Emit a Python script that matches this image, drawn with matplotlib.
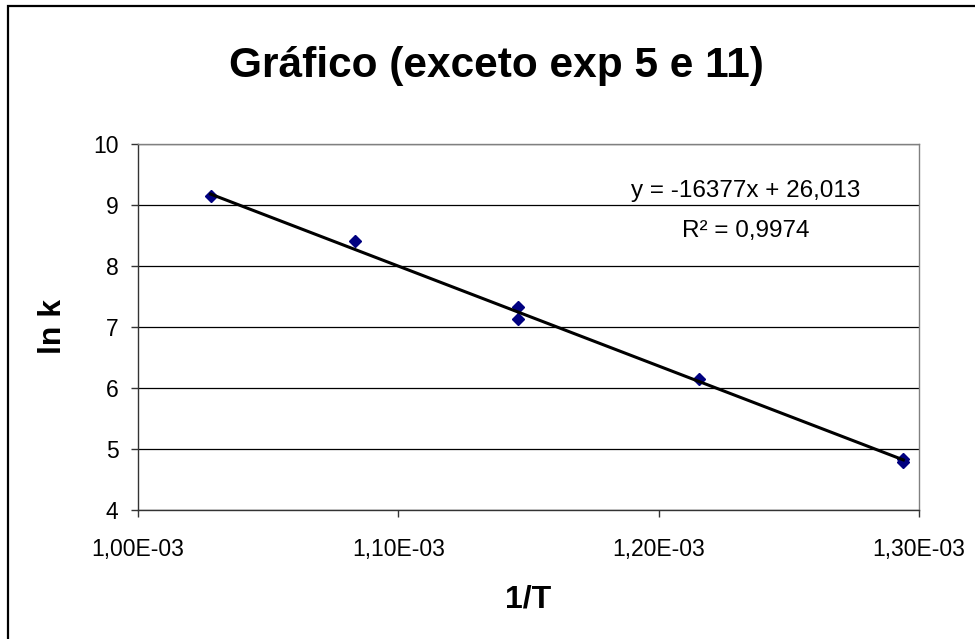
import matplotlib
matplotlib.use("Agg")
import matplotlib.pyplot as plt
from matplotlib.patches import Rectangle
from matplotlib.ticker import FixedLocator, FuncFormatter
import numpy as np

plt.rcParams['font.family'] = ['Liberation Sans', 'DejaVu Sans']

# data
inv_T = [1.0279e-3, 1.0834e-3, 1.1461e-3, 1.1461e-3, 1.2155e-3, 1.2940e-3, 1.2940e-3]
ln_k = [9.15, 8.41, 7.33, 7.13, 6.15, 4.78, 4.84]
slope = -16377
intercept = 26.013
eq_text = "y = -16377x + 26,013"
r2_text = "R² = 0,9974"
x_ticks = [1.00e-3, 1.10e-3, 1.20e-3, 1.30e-3]
y_ticks = [4, 5, 6, 7, 8, 9, 10]

fig = plt.figure(figsize=(9.75, 6.39), dpi=100)
ax = fig.add_axes([138/975, 1-510/639, (919-138)/975, (510-144)/639])

# outer chart border (only top and left visible)
fig.patches.append(Rectangle((8/975, -0.05), 1.2, 1 - 6/639 + 0.05, transform=fig.transFigure,
                             fill=False, edgecolor='black', linewidth=1.6, zorder=0))

ax.set_xlim(1.00e-3, 1.30e-3)
ax.set_ylim(4, 10)
ax.xaxis.set_major_locator(FixedLocator(x_ticks))
ax.yaxis.set_major_locator(FixedLocator(y_ticks))
ax.xaxis.set_major_formatter(FuncFormatter(lambda v, p: ("%.2E" % v).replace('.', ',')))
ax.yaxis.set_major_formatter(FuncFormatter(lambda v, p: "%d" % round(v)))

ax.grid(axis='y', color='black', linewidth=0.9)
ax.set_axisbelow(True)
for s in ['left', 'bottom']:
    ax.spines[s].set_color('#333333')
    ax.spines[s].set_linewidth(1.0)
for s in ['top', 'right']:
    ax.spines[s].set_color('#808080')
    ax.spines[s].set_linewidth(1.0)
ax.tick_params(axis='both', direction='out', length=5, width=1, color='#333333',
               labelsize=16.5)
ax.tick_params(axis='x', pad=15)
ax.tick_params(axis='y', pad=9)

ax.plot(inv_T, ln_k, linestyle='none', marker='D', markersize=6.5,
        color='#000080', zorder=3)

xs = np.array([min(inv_T), max(inv_T)])
ax.plot(xs, slope * xs + intercept, color='black', linewidth=2.2, zorder=4)

ax.text(746, 639-196.7, eq_text, transform=None, ha='center', va='baseline', fontsize=17.5)
ax.text(746, 639-236.7, r2_text, transform=None, ha='center', va='baseline', fontsize=17.5)

fig.text(496/975, 1-77/639, "Gráfico (exceto exp 5 e 11)", ha='center', va='baseline',
         fontsize=30.5, fontweight='bold')
fig.text(528/975, 1-608/639, "1/T", ha='center', va='baseline', fontsize=23, fontweight='bold')
fig.text(68/975, 1-326/639, "ln k", ha='right', va='center', rotation=90,
         fontsize=23, fontweight='bold')

fig.savefig("out.png", dpi=100)
